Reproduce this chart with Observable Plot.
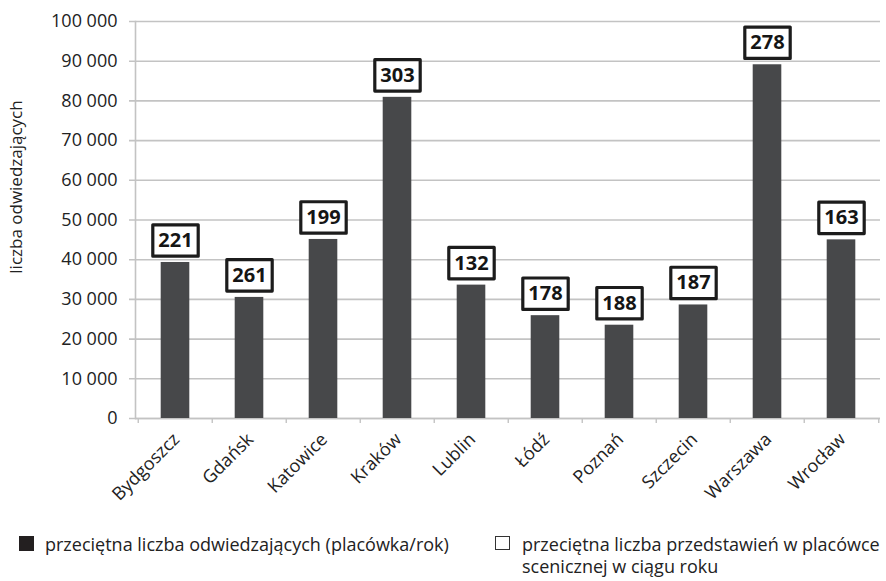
<!DOCTYPE html>
<html lang="pl">
<head>
<meta charset="utf-8">
<script src="https://cdn.jsdelivr.net/npm/d3@7"></script>
<script src="https://cdn.jsdelivr.net/npm/@observablehq/plot@0.6"></script>
<style>
  html, body { margin: 0; padding: 0; background: #fff; }
  #page { position: relative; width: 886px; height: 581px; overflow: hidden; font-family: "Open Sans", sans-serif; color: #222; }
  #chart { position: absolute; left: 0; top: 0; }
  .key { position: absolute; font-size: 18px; line-height: 22px; white-space: nowrap; color: #222; }
  .swatch { position: absolute; box-sizing: border-box; }
</style>
</head>
<body>
<div id="page">
  <div id="chart"></div>
  <div class="swatch" style="left:19px; top:536px; width:15px; height:15px; background:#231f20;"></div>
  <div class="key" style="left:45px; top:533px;">przeciętna liczba odwiedzających (placówka/rok)</div>
  <div class="swatch" style="left:495px; top:536px; width:15px; height:14px; border:1.3px solid #333; background:#fff;"></div>
  <div class="key" style="left:522px; top:533px;">przeciętna liczba przedstawień w placówce<br>scenicznej w ciągu roku</div>
</div>
<script>
// Miasta, średnia liczba odwiedzających na placówkę w roku, średnia liczba przedstawień
const cities = ["Bydgoszcz", "Gdańsk", "Katowice", "Kraków", "Lublin", "Łódź", "Poznań", "Szczecin", "Warszawa", "Wrocław"];
const visitors = [39300, 30500, 45100, 80900, 33600, 25900, 23500, 28600, 89100, 45000];
const performances = [221, 261, 199, 303, 132, 178, 188, 187, 278, 163];
const yTicks = [0, 10000, 20000, 30000, 40000, 50000, 60000, 70000, 80000, 90000, 100000];

const data = cities.map((city, i) => ({city, visitors: visitors[i], performances: performances[i]}));

const W = 886, H = 515;
const mL = 135, mR = 6, mT = 21, mB = H - 418;
const band = (W - mL - mR) / cities.length;

// "1 000" style thousands separator
const fmt = d => d3.format(",")(d).replace(/,/g, " ");

// framed value box drawn around the performance count
const labelBox = {
  draw(ctx) {
    const w = 22.7, h = 15.7;
    ctx.moveTo(-w, -h);
    ctx.lineTo(w, -h);
    ctx.lineTo(w, h);
    ctx.lineTo(-w, h);
    ctx.closePath();
  }
};

const grey = "#c3c3c3";

const chart = Plot.plot({
  width: W,
  height: H,
  marginLeft: mL,
  marginRight: mR,
  marginTop: mT,
  marginBottom: mB,
  style: {fontFamily: "Open Sans, sans-serif", color: "#222", background: "#fff"},
  x: {domain: cities, padding: 0, axis: null},
  y: {domain: [0, 100000], axis: null},
  marks: [
    Plot.gridY(yTicks, {stroke: grey, strokeOpacity: 1, strokeWidth: 1.6, insetLeft: -6}),
    Plot.axisY({ticks: yTicks, tickFormat: fmt, tickSize: 0, tickPadding: 18, fontSize: 18, fill: "#222", label: null}),
    Plot.frame({anchor: "left", stroke: grey, strokeWidth: 1.6}),
    Plot.ruleY([0], {stroke: grey, strokeWidth: 1.6}),
    // category separators below the baseline
    Plot.ruleX(cities, {x: d => d, y1: 0, y2: 0, insetBottom: -5, dx: -band / 2, stroke: grey, strokeWidth: 1.4}),
    Plot.ruleX([cities[cities.length - 1]], {x: d => d, y1: 0, y2: 0, insetBottom: -5, dx: band / 2, stroke: grey, strokeWidth: 1.4}),
    Plot.barY(data, {x: "city", y: "visitors", fill: "#47484a", insetLeft: 22.7, insetRight: 22.7}),
    Plot.dot(data, {x: "city", y: "visitors", symbol: labelBox, r: 10, dy: -22, fill: "#fff", stroke: "#1c1c1c", strokeWidth: 3.2, strokeLinejoin: "round"}),
    Plot.text(data, {x: "city", y: "visitors", text: d => String(d.performances), dy: -22, fontWeight: "bold", fontSize: 20, fill: "#151515"}),
    Plot.text(cities, {x: d => d, frameAnchor: "bottom", rotate: -45, textAnchor: "end", dx: 5, dy: 22, fontSize: 18, fill: "#222"}),
    Plot.text(["liczba odwiedzających"], {frameAnchor: "left", rotate: -90, textAnchor: "middle", dx: -118.5, dy: -33, fontSize: 17, fill: "#222"})
  ]
});

document.getElementById("chart").append(chart);
</script>
</body>
</html>
